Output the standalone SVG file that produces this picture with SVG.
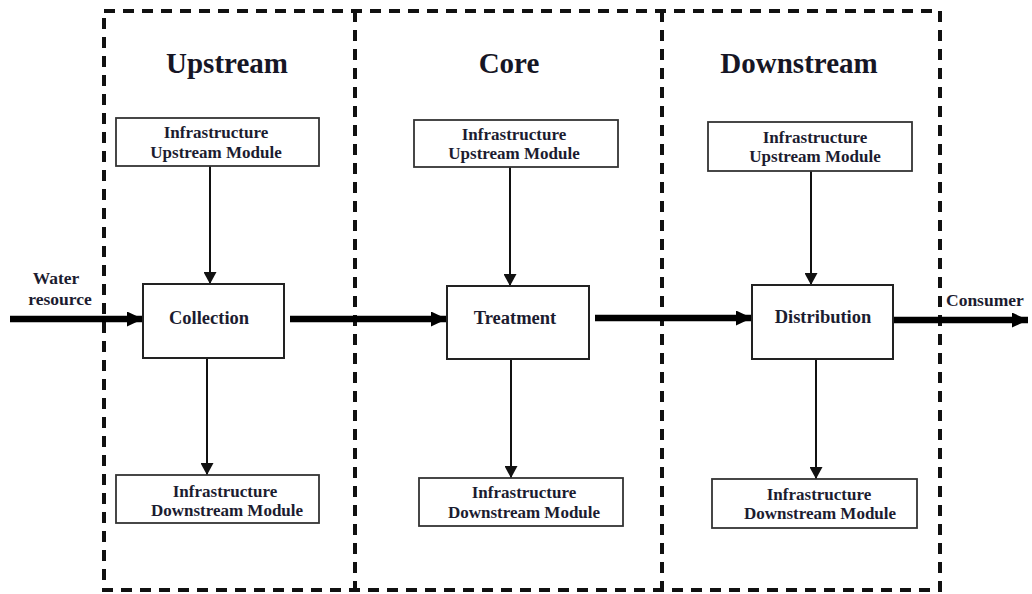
<svg xmlns="http://www.w3.org/2000/svg" width="1032" height="594" viewBox="0 0 1032 594">
  <style>
    .bg { fill: #ffffff; }
    .zone { fill: none; stroke: #111; stroke-width: 4; stroke-dasharray: 11 8; }
    .title { font-family: "Liberation Serif", "Times New Roman", serif; font-weight: bold; font-size: 29px; fill: #161625; text-anchor: middle; }
    .mod { fill: #fff; stroke: #333; stroke-width: 1.8; }
    .proc { fill: #fff; stroke: #222; stroke-width: 2; }
    .mtxt { font-family: "Liberation Serif", "Times New Roman", serif; font-weight: bold; font-size: 17px; fill: #1c1c30; text-anchor: middle; }
    .ptxt { font-family: "Liberation Serif", "Times New Roman", serif; font-weight: bold; font-size: 18.5px; fill: #1c1c30; text-anchor: middle; }
    .ltxt { font-family: "Liberation Serif", "Times New Roman", serif; font-weight: bold; font-size: 17.5px; fill: #1c1c30; }
    .thin { stroke: #111; stroke-width: 2; fill: none; marker-end: url(#headThin); }
    .flow { stroke: #000; stroke-width: 6.5; fill: none; marker-end: url(#headThick); }
  </style>
  <defs>
    <marker id="headThin" markerUnits="userSpaceOnUse" markerWidth="13" markerHeight="13" refX="12" refY="6.5" orient="auto">
      <path d="M0,0 L12,6.5 L0,13 z" fill="#111"/>
    </marker>
    <marker id="headThick" markerUnits="userSpaceOnUse" markerWidth="17" markerHeight="15" refX="16" refY="7.5" orient="auto">
      <path d="M0,0 L16,7.5 L0,15 z" fill="#000"/>
    </marker>
  </defs>

  <rect class="bg" x="0" y="0" width="1032" height="594"/>

  <!-- stage zones -->
  <g id="zones">
    <rect class="zone" x="104" y="11" width="836" height="579"/>
    <line class="zone" x1="355" y1="11" x2="355" y2="590"/>
    <line class="zone" x1="662" y1="11" x2="662" y2="590"/>
    <text class="title" x="227" y="73">Upstream</text>
    <text class="title" x="509" y="73">Core</text>
    <text class="title" x="799" y="73">Downstream</text>
  </g>

  <!-- connectors -->
  <g id="connectors">
    <line class="flow" x1="10" y1="319" x2="143" y2="319"/>
    <line class="flow" x1="290" y1="319" x2="447" y2="319"/>
    <line class="flow" x1="595" y1="318" x2="752" y2="318"/>
    <line class="flow" x1="893" y1="320" x2="1028" y2="320"/>

    <line class="thin" x1="210" y1="166" x2="210" y2="284"/>
    <line class="thin" x1="207" y1="358" x2="207" y2="475"/>
    <line class="thin" x1="510" y1="167" x2="510" y2="286"/>
    <line class="thin" x1="511" y1="359" x2="511" y2="478"/>
    <line class="thin" x1="811" y1="171" x2="811" y2="285"/>
    <line class="thin" x1="816" y1="359" x2="816" y2="479"/>
  </g>

  <g id="water-resource">
    <text class="ltxt" x="56" y="284" text-anchor="middle">Water</text>
    <text class="ltxt" x="60" y="305" text-anchor="middle">resource</text>
  </g>
  <g id="consumer">
    <text class="ltxt" x="946" y="306" font-size="18px">Consumer</text>
  </g>

  <!-- upstream stage -->
  <g id="up-infra-up">
    <rect class="mod" x="116" y="118" width="203" height="48"/>
    <text class="mtxt" x="216" y="138">Infrastructure</text>
    <text class="mtxt" x="216" y="158">Upstream Module</text>
  </g>
  <g id="collection">
    <rect class="proc" x="143" y="284" width="141" height="74"/>
    <text class="ptxt" x="209" y="324">Collection</text>
  </g>
  <g id="up-infra-down">
    <rect class="mod" x="116" y="475" width="203" height="48"/>
    <text class="mtxt" x="225" y="497">Infrastructure</text>
    <text class="mtxt" x="227" y="516">Downstream Module</text>
  </g>

  <!-- core stage -->
  <g id="core-infra-up">
    <rect class="mod" x="414" y="120" width="204" height="47"/>
    <text class="mtxt" x="514" y="140">Infrastructure</text>
    <text class="mtxt" x="514" y="159">Upstream Module</text>
  </g>
  <g id="treatment">
    <rect class="proc" x="447" y="286" width="142" height="73"/>
    <text class="ptxt" x="515" y="324">Treatment</text>
  </g>
  <g id="core-infra-down">
    <rect class="mod" x="419" y="478" width="204" height="48"/>
    <text class="mtxt" x="524" y="498">Infrastructure</text>
    <text class="mtxt" x="524" y="518">Downstream Module</text>
  </g>

  <!-- downstream stage -->
  <g id="down-infra-up">
    <rect class="mod" x="708" y="122" width="204" height="49"/>
    <text class="mtxt" x="815" y="143">Infrastructure</text>
    <text class="mtxt" x="815" y="162">Upstream Module</text>
  </g>
  <g id="distribution">
    <rect class="proc" x="752" y="285" width="141" height="74"/>
    <text class="ptxt" x="823" y="323">Distribution</text>
  </g>
  <g id="down-infra-down">
    <rect class="mod" x="712" y="479" width="205" height="49"/>
    <text class="mtxt" x="819" y="500">Infrastructure</text>
    <text class="mtxt" x="820" y="519">Downstream Module</text>
  </g>
</svg>
